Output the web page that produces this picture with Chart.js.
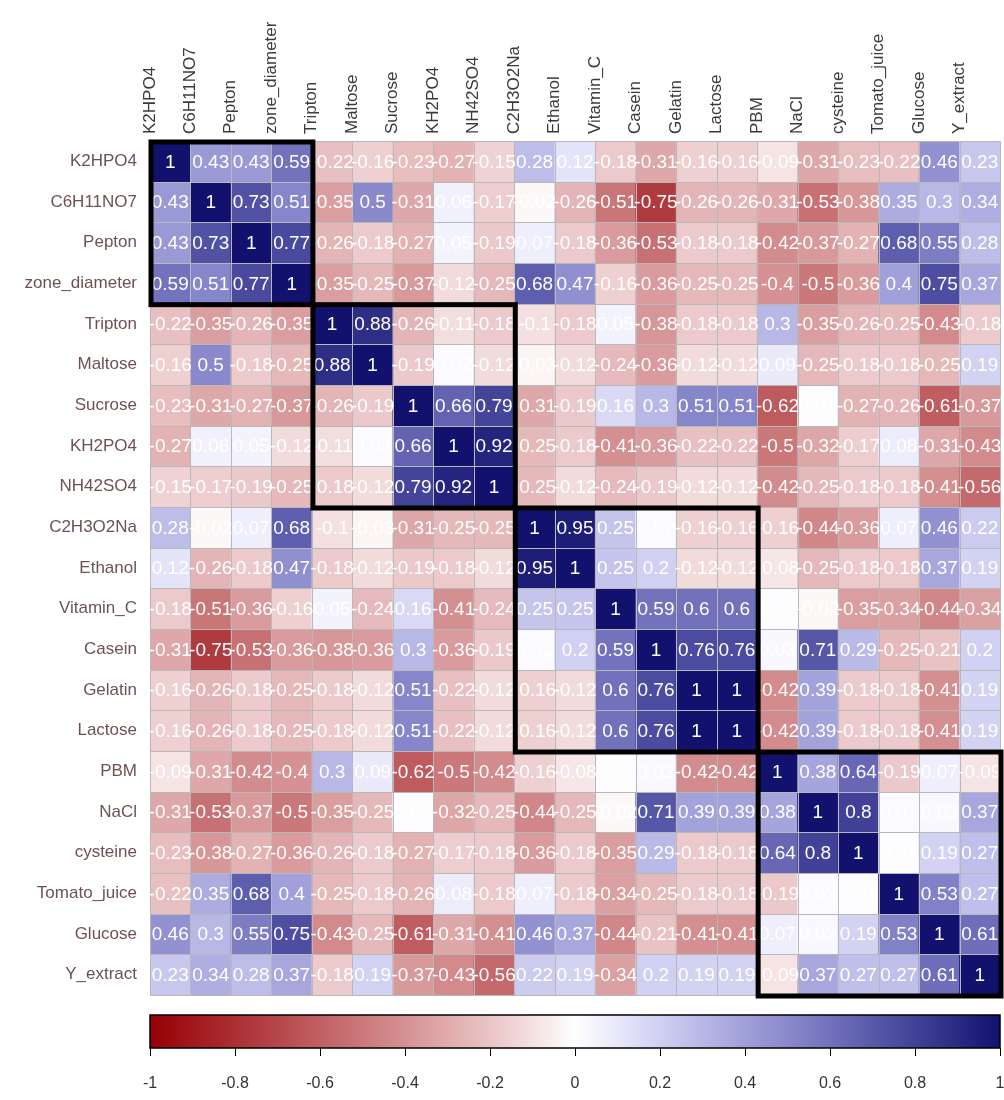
<!DOCTYPE html>
<html>
<head>
<meta charset="utf-8">
<title>Correlation matrix</title>
<script src="https://cdn.jsdelivr.net/npm/chart.js@4.4.1/dist/chart.umd.min.js"></script>
<style>
  html, body { margin: 0; padding: 0; background: #ffffff; }
  #wrap { position: relative; width: 1004px; height: 1100px; overflow: hidden; }
  #heat { position: absolute; left: 0; top: 0; }
  #legendBar { position: absolute; left: 0; top: 1000px; }
</style>
</head>
<body>
<div id="wrap">
  <canvas id="heat" width="1004" height="1000"></canvas>
  <canvas id="legendBar" width="1004" height="100"></canvas>
</div>
<script>
// Variables, in clustered order
const variables = ["K2HPO4", "C6H11NO7", "Pepton", "zone_diameter", "Tripton", "Maltose",
  "Sucrose", "KH2PO4", "NH42SO4", "C2H3O2Na", "Ethanol", "Vitamin_C", "Casein", "Gelatin",
  "Lactose", "PBM", "NaCl", "cysteine", "Tomato_juice", "Glucose", "Y_extract"];

// Correlation coefficients, one row per variable
const corrK2HPO4      = [1, 0.43, 0.43, 0.59, -0.22, -0.16, -0.23, -0.27, -0.15, 0.28, 0.12, -0.18, -0.31, -0.16, -0.16, -0.09, -0.31, -0.23, -0.22, 0.46, 0.23];
const corrC6H11NO7    = [0.43, 1, 0.73, 0.51, -0.35, 0.5, -0.31, 0.06, -0.17, -0.02, -0.26, -0.51, -0.75, -0.26, -0.26, -0.31, -0.53, -0.38, 0.35, 0.3, 0.34];
const corrPepton      = [0.43, 0.73, 1, 0.77, -0.26, -0.18, -0.27, 0.05, -0.19, 0.07, -0.18, -0.36, -0.53, -0.18, -0.18, -0.42, -0.37, -0.27, 0.68, 0.55, 0.28];
const corrZone        = [0.59, 0.51, 0.77, 1, -0.35, -0.25, -0.37, -0.12, -0.25, 0.68, 0.47, -0.16, -0.36, -0.25, -0.25, -0.4, -0.5, -0.36, 0.4, 0.75, 0.37];
const corrTripton     = [-0.22, -0.35, -0.26, -0.35, 1, 0.88, -0.26, -0.11, -0.18, -0.1, -0.18, 0.05, -0.38, -0.18, -0.18, 0.3, -0.35, -0.26, -0.25, -0.43, -0.18];
const corrMaltose     = [-0.16, 0.5, -0.18, -0.25, 0.88, 1, -0.19, 0.02, -0.12, -0.03, -0.12, -0.24, -0.36, -0.12, -0.12, 0.09, -0.25, -0.18, -0.18, -0.25, 0.19];
const corrSucrose     = [-0.23, -0.31, -0.27, -0.37, -0.26, -0.19, 1, 0.66, 0.79, -0.31, -0.19, 0.16, 0.3, 0.51, 0.51, -0.62, 0.01, -0.27, -0.26, -0.61, -0.37];
const corrKH2PO4      = [-0.27, 0.06, 0.05, -0.12, -0.11, 0.02, 0.66, 1, 0.92, -0.25, -0.18, -0.41, -0.36, -0.22, -0.22, -0.5, -0.32, -0.17, 0.08, -0.31, -0.43];
const corrNH42SO4     = [-0.15, -0.17, -0.19, -0.25, -0.18, -0.12, 0.79, 0.92, 1, -0.25, -0.12, -0.24, -0.19, -0.12, -0.12, -0.42, -0.25, -0.18, -0.18, -0.41, -0.56];
const corrC2H3O2Na    = [0.28, -0.02, 0.07, 0.68, -0.1, -0.03, -0.31, -0.25, -0.25, 1, 0.95, 0.25, 0.02, -0.16, -0.16, -0.16, -0.44, -0.36, 0.07, 0.46, 0.22];
const corrEthanol     = [0.12, -0.26, -0.18, 0.47, -0.18, -0.12, -0.19, -0.18, -0.12, 0.95, 1, 0.25, 0.2, -0.12, -0.12, -0.08, -0.25, -0.18, -0.18, 0.37, 0.19];
const corrVitaminC    = [-0.18, -0.51, -0.36, -0.16, 0.05, -0.24, 0.16, -0.41, -0.24, 0.25, 0.25, 1, 0.59, 0.6, 0.6, 0.01, -0.02, -0.35, -0.34, -0.44, -0.34];
const corrCasein      = [-0.31, -0.75, -0.53, -0.36, -0.38, -0.36, 0.3, -0.36, -0.19, 0.02, 0.2, 0.59, 1, 0.76, 0.76, 0.03, 0.71, 0.29, -0.25, -0.21, 0.2];
const corrGelatin     = [-0.16, -0.26, -0.18, -0.25, -0.18, -0.12, 0.51, -0.22, -0.12, -0.16, -0.12, 0.6, 0.76, 1, 1, -0.42, 0.39, -0.18, -0.18, -0.41, 0.19];
const corrLactose     = [-0.16, -0.26, -0.18, -0.25, -0.18, -0.12, 0.51, -0.22, -0.12, -0.16, -0.12, 0.6, 0.76, 1, 1, -0.42, 0.39, -0.18, -0.18, -0.41, 0.19];
const corrPBM         = [-0.09, -0.31, -0.42, -0.4, 0.3, 0.09, -0.62, -0.5, -0.42, -0.16, -0.08, 0.01, 0.03, -0.42, -0.42, 1, 0.38, 0.64, -0.19, 0.07, -0.09];
const corrNaCl        = [-0.31, -0.53, -0.37, -0.5, -0.35, -0.25, 0.01, -0.32, -0.25, -0.44, -0.25, -0.02, 0.71, 0.39, 0.39, 0.38, 1, 0.8, 0.02, 0.03, 0.37];
const corrCysteine    = [-0.23, -0.38, -0.27, -0.36, -0.26, -0.18, -0.27, -0.17, -0.18, -0.36, -0.18, -0.35, 0.29, -0.18, -0.18, 0.64, 0.8, 1, 0.01, 0.19, 0.27];
const corrTomatoJuice = [-0.22, 0.35, 0.68, 0.4, -0.25, -0.18, -0.26, 0.08, -0.18, 0.07, -0.18, -0.34, -0.25, -0.18, -0.18, -0.19, 0.02, 0.01, 1, 0.53, 0.27];
const corrGlucose     = [0.46, 0.3, 0.55, 0.75, -0.43, -0.25, -0.61, -0.31, -0.41, 0.46, 0.37, -0.44, -0.21, -0.41, -0.41, 0.07, 0.03, 0.19, 0.53, 1, 0.61];
const corrYExtract    = [0.23, 0.34, 0.28, 0.37, -0.18, 0.19, -0.37, -0.43, -0.56, 0.22, 0.19, -0.34, 0.2, 0.19, 0.19, -0.09, 0.37, 0.27, 0.27, 0.61, 1];

// Hierarchical clusters (first and last variable index of each block)
const clusters = [[0, 3], [4, 8], [9, 14], [15, 20]];

// Colour-key tick values
const keyTicks = [-1, -0.8, -0.6, -0.4, -0.2, 0, 0.2, 0.4, 0.6, 0.8, 1];

const matrix = [corrK2HPO4, corrC6H11NO7, corrPepton, corrZone, corrTripton, corrMaltose,
  corrSucrose, corrKH2PO4, corrNH42SO4, corrC2H3O2Na, corrEthanol, corrVitaminC, corrCasein,
  corrGelatin, corrLactose, corrPBM, corrNaCl, corrCysteine, corrTomatoJuice, corrGlucose, corrYExtract];

// Diverging palette: dark red (-1) -> white (0) -> midnight blue (+1)
function corrColor(v) {
  const t = Math.min(1, Math.abs(v));
  let r, g, b;
  if (v < 0) {
    r = 255 - t * (255 - 150);
    g = 255 - Math.pow(t, 0.92) * 255;
    b = 255 - Math.pow(t, 0.92) * 250;
  } else {
    r = 255 - t * (255 - 18);
    g = 255 - t * (255 - 18);
    b = 255 - Math.pow(t, 1.5) * (255 - 110);
  }
  return `rgb(${Math.round(r)},${Math.round(g)},${Math.round(b)})`;
}

const FONT = "'Liberation Sans', Arial, Helvetica, sans-serif";

// Cell grid, coefficient labels and cluster rectangles
const overlay = {
  id: 'overlay',
  afterDatasetsDraw(chart) {
    const { ctx, scales: { x, y } } = chart;
    const n = variables.length;
    const left = x.getPixelForValue(-0.5), right = x.getPixelForValue(n - 0.5);
    const top = y.getPixelForValue(-0.5), bottom = y.getPixelForValue(n - 0.5);
    ctx.save();
    ctx.strokeStyle = '#b8b8b8';
    ctx.lineWidth = 1;
    ctx.beginPath();
    for (let i = 0; i <= n; i++) {
      const px = Math.round(x.getPixelForValue(i - 0.5)) + 0.5;
      ctx.moveTo(px, top); ctx.lineTo(px, bottom);
      const py = Math.round(y.getPixelForValue(i - 0.5)) + 0.5;
      ctx.moveTo(left, py); ctx.lineTo(right, py);
    }
    ctx.stroke();

    ctx.fillStyle = '#ffffff';
    ctx.font = `19px ${FONT}`;
    ctx.textAlign = 'center';
    ctx.textBaseline = 'middle';
    matrix.forEach((row, r) => {
      row.forEach((v, c) => {
        ctx.fillText(String(v), x.getPixelForValue(c), y.getPixelForValue(r) + 1);
      });
    });

    ctx.strokeStyle = '#000000';
    ctx.lineWidth = 5;
    clusters.forEach(([a, b]) => {
      const x0 = x.getPixelForValue(a - 0.5), x1 = x.getPixelForValue(b + 0.5);
      const y0 = y.getPixelForValue(a - 0.5), y1 = y.getPixelForValue(b + 0.5);
      ctx.strokeRect(x0 + 1, y0 + 1, x1 - x0, y1 - y0);
    });
    ctx.restore();
  }
};

const datasets = matrix.map((row, r) => ({
  label: variables[r],
  data: row.map(() => [r - 0.5, r + 0.5]),
  backgroundColor: row.map(corrColor),
  borderWidth: 0,
  grouped: false,
  categoryPercentage: 1,
  barPercentage: 1
}));

new Chart(document.getElementById('heat'), {
  type: 'bar',
  data: { labels: variables, datasets },
  options: {
    responsive: false,
    animation: false,
    events: [],
    layout: { padding: { left: 0, right: 4, top: 0, bottom: 5 } },
    plugins: { legend: { display: false }, tooltip: { enabled: false } },
    scales: {
      x: {
        type: 'category',
        position: 'top',
        offset: true,
        grid: { display: false, drawTicks: false },
        border: { display: false },
        ticks: {
          autoSkip: false, minRotation: 90, maxRotation: 90, padding: 7,
          color: '#3a3a3a', font: { family: FONT, size: 17 }
        },
        afterFit(s) { s.height = 141; s.paddingLeft = 0; s.paddingRight = 0; }
      },
      y: {
        type: 'linear',
        reverse: true,
        min: -0.5,
        max: 20.5,
        grid: { display: false, drawTicks: false },
        border: { display: false },
        afterBuildTicks(s) { s.ticks = variables.map((_, i) => ({ value: i })); },
        ticks: {
          autoSkip: false, padding: 13,
          color: '#6e5252', font: { family: FONT, size: 17 },
          callback: (v) => variables[v]
        },
        afterFit(s) { s.width = 150; s.paddingTop = 0; s.paddingBottom = 0; }
      }
    }
  },
  plugins: [overlay]
});

// Colour key: gradient strip on a linear -1..1 axis
const keyStrip = {
  id: 'keyStrip',
  beforeDatasetsDraw(chart) {
    const { ctx, chartArea: a, scales: { x } } = chart;
    const g = ctx.createLinearGradient(x.getPixelForValue(-1), 0, x.getPixelForValue(1), 0);
    for (let i = 0; i <= 40; i++) {
      const v = -1 + i * 0.05;
      g.addColorStop(i / 40, corrColor(v));
    }
    ctx.save();
    ctx.fillStyle = g;
    ctx.fillRect(a.left, a.top, a.right - a.left, a.bottom - a.top);
    ctx.strokeStyle = '#000';
    ctx.lineWidth = 1.5;
    ctx.strokeRect(a.left, a.top, a.right - a.left, a.bottom - a.top);
    ctx.restore();
  }
};

new Chart(document.getElementById('legendBar'), {
  type: 'scatter',
  data: { datasets: [{ data: [] }] },
  options: {
    responsive: false,
    animation: false,
    events: [],
    layout: { padding: { left: 150, right: 4, top: 15, bottom: 0 } },
    plugins: { legend: { display: false }, tooltip: { enabled: false } },
    scales: {
      x: {
        type: 'linear',
        position: 'bottom',
        min: -1,
        max: 1,
        afterBuildTicks(s) { s.ticks = keyTicks.map(v => ({ value: v })); },
        grid: { display: true, drawOnChartArea: false, drawTicks: true, tickLength: 8, color: '#000', lineWidth: 1 },
        border: { display: false },
        ticks: { padding: 18, color: '#333333', font: { family: FONT, size: 16 }, callback: (v) => String(v) },
        afterFit(s) { s.height = 52; s.paddingLeft = 0; s.paddingRight = 0; }
      },
      y: { display: false, min: 0, max: 1 }
    }
  },
  plugins: [keyStrip]
});
</script>
</body>
</html>
